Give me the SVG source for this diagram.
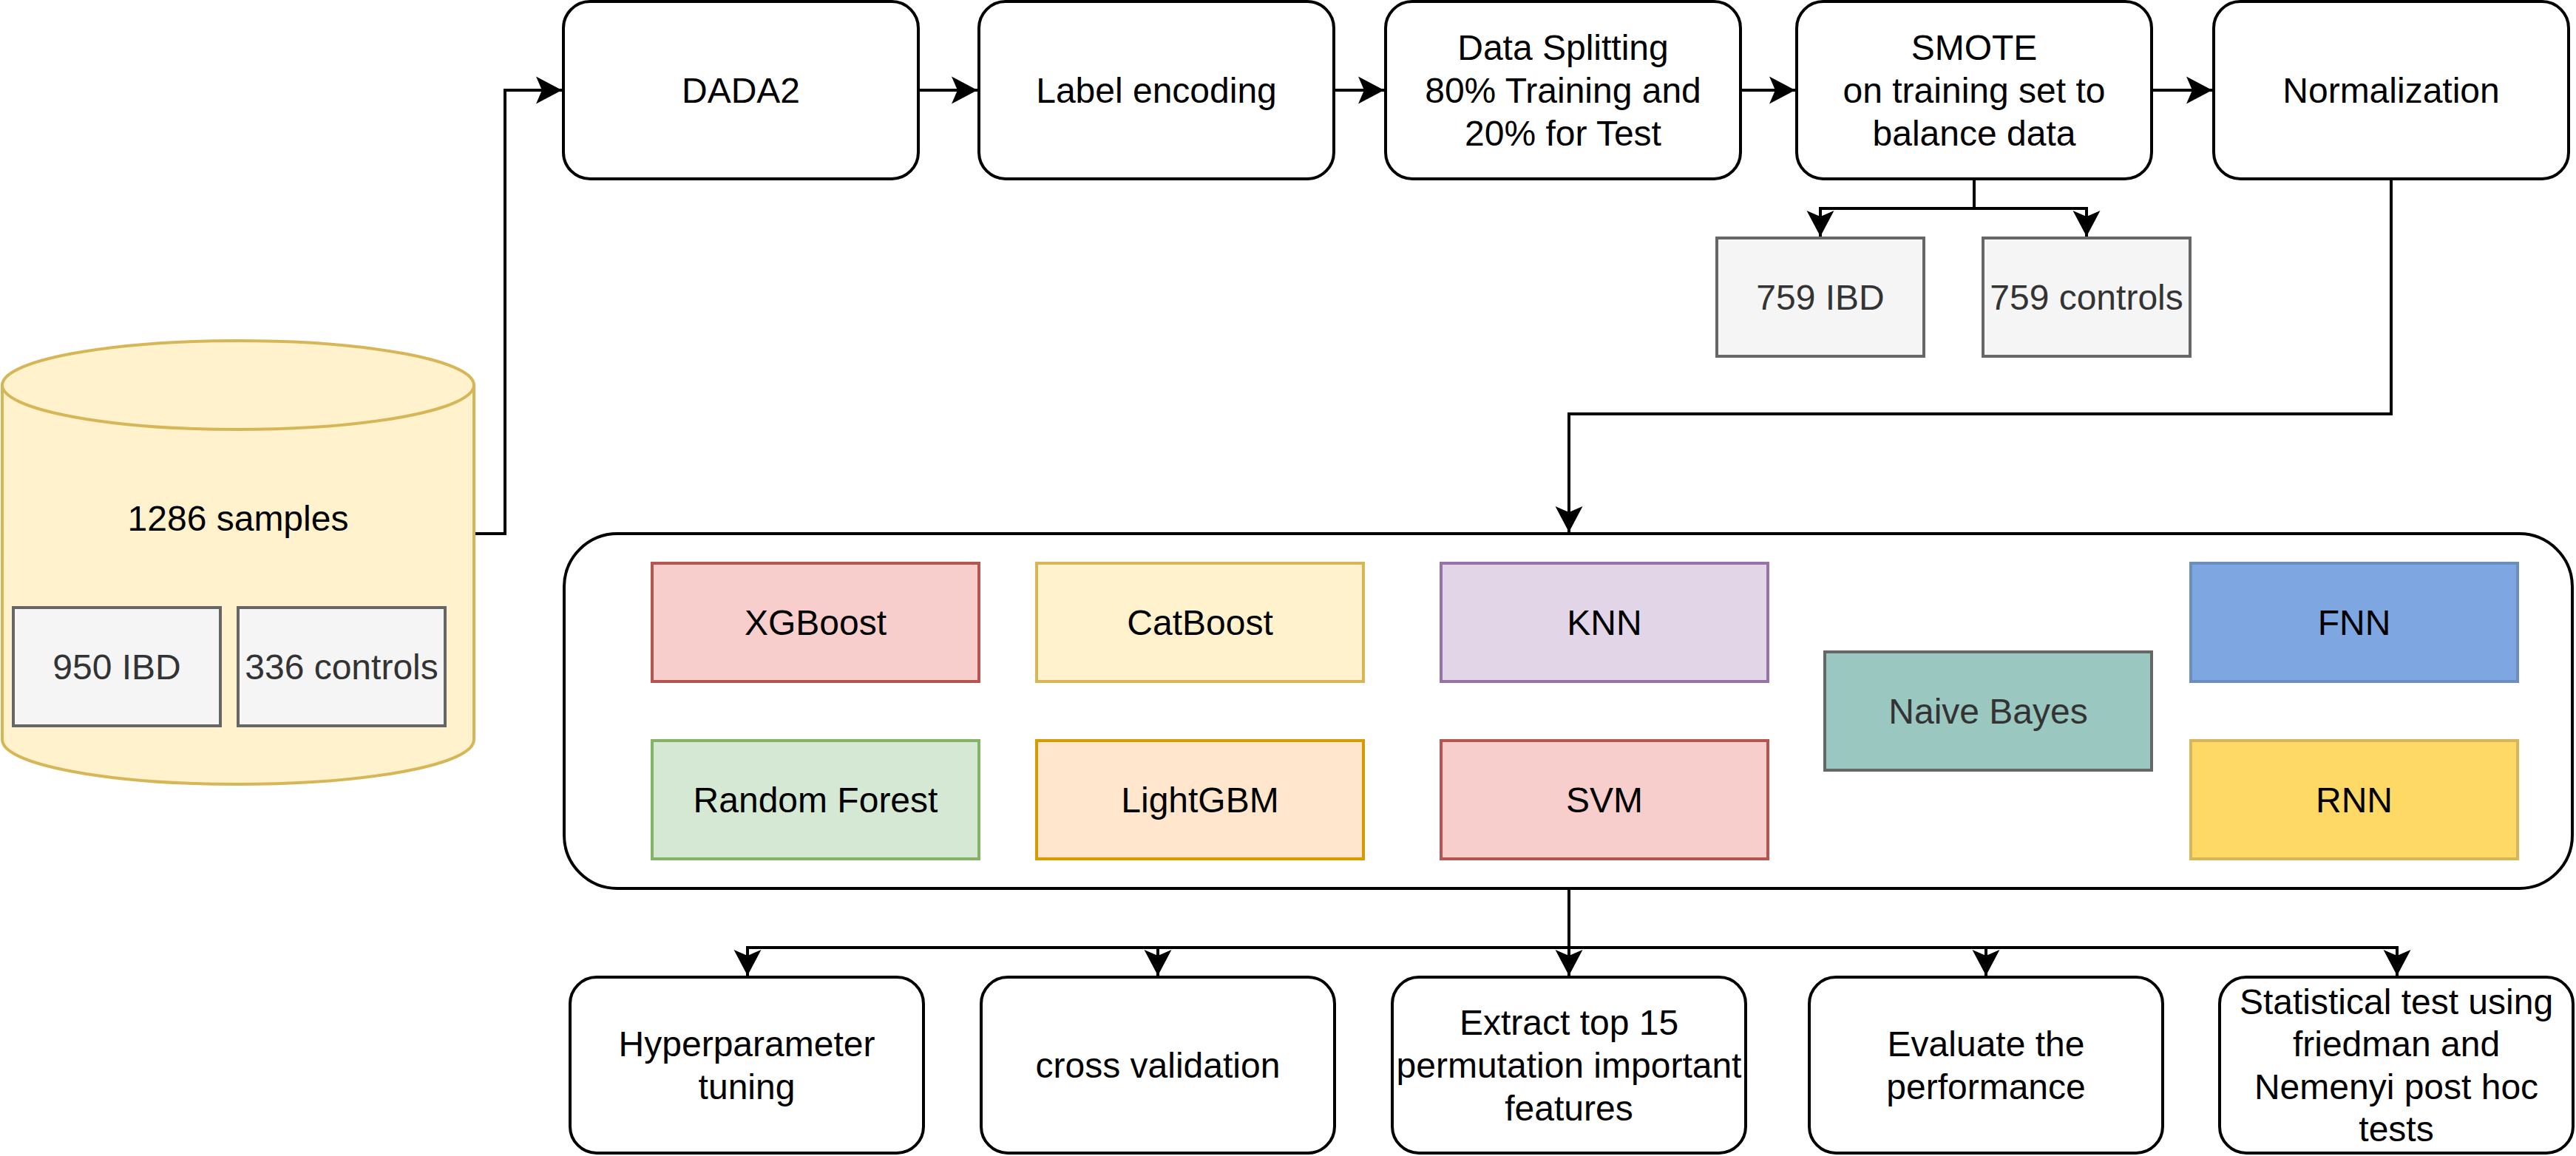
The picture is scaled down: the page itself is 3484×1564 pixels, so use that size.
<svg xmlns="http://www.w3.org/2000/svg" width="3484" height="1564" viewBox="0 0 3484 1564">
<style>
text{font-family:"Liberation Sans",Arial,Helvetica,sans-serif;font-size:48px;text-anchor:middle;fill:#000}
.g text,text.g{fill:#333333}
.box{fill:#fff;stroke:#000;stroke-width:4}
.grey{fill:#f5f5f5;stroke:#666666;stroke-width:4}
.m{stroke-width:4}
.conn{fill:none;stroke:#000;stroke-width:4}
</style>
<defs>
<marker id="arr" markerUnits="userSpaceOnUse" markerWidth="40" markerHeight="40" viewBox="-36 -20 40 40" refX="0" refY="0" orient="auto" overflow="visible">
<path d="M0,0 L-35,-18.5 L-27,0 L-35,18.5 Z" fill="#000" stroke="none"/>
</marker>
</defs>
<g id="connectors">
<path class="conn" d="M641,722 H683 V122 H760" marker-end="url(#arr)"/>
<path class="conn" d="M1242,122 H1322" marker-end="url(#arr)"/>
<path class="conn" d="M1804,122 H1872" marker-end="url(#arr)"/>
<path class="conn" d="M2354,122 H2428" marker-end="url(#arr)"/>
<path class="conn" d="M2910,122 H2992" marker-end="url(#arr)"/>
<path class="conn" d="M2670,242 V282 H2462 V320" marker-end="url(#arr)"/>
<path class="conn" d="M2670,282 H2822 V320" marker-end="url(#arr)"/>
<path class="conn" d="M3234,242 V560 H2122 V720" marker-end="url(#arr)"/>
<path class="conn" d="M2122,1202 V1282 H1011 V1320" marker-end="url(#arr)"/>
<path class="conn" d="M2122,1282 H1566 V1320" marker-end="url(#arr)"/>
<path class="conn" d="M2122,1282 V1320" marker-end="url(#arr)"/>
<path class="conn" d="M2122,1282 H2686 V1320" marker-end="url(#arr)"/>
<path class="conn" d="M2122,1282 H3242 V1320" marker-end="url(#arr)"/>
</g>
<g id="samples">
<path d="M3,521 A319,60 0 0 1 641,521 L641,1001 A319,60 0 0 1 3,1001 Z" fill="#fff2cc" stroke="#d6b656" stroke-width="4"/>
<path d="M3,521 A319,60 0 0 0 641,521" fill="none" stroke="#d6b656" stroke-width="4"/>
<text x="322" y="718">1286 samples</text>
</g>
<g id="ibd950" class="g"><rect class="grey" x="18" y="822" width="280" height="160"/><text x="158" y="919">950 IBD</text></g>
<g id="controls336" class="g"><rect class="grey" x="322" y="822" width="280" height="160"/><text x="462" y="919">336 controls</text></g>
<g id="dada2"><rect class="box" x="762" y="2" width="480" height="240" rx="36"/><text x="1002" y="139">DADA2</text></g>
<g id="labelenc"><rect class="box" x="1324" y="2" width="480" height="240" rx="36"/><text x="1564" y="139">Label encoding</text></g>
<g id="split"><rect class="box" x="1874" y="2" width="480" height="240" rx="36"/><text x="2114" y="81">Data Splitting</text><text x="2114" y="139">80% Training and</text><text x="2114" y="197">20% for Test</text></g>
<g id="smote"><rect class="box" x="2430" y="2" width="480" height="240" rx="36"/><text x="2670" y="81">SMOTE</text><text x="2670" y="139">on training set to</text><text x="2670" y="197">balance data</text></g>
<g id="norm"><rect class="box" x="2994" y="2" width="480" height="240" rx="36"/><text x="3234" y="139">Normalization</text></g>
<g id="ibd759" class="g"><rect class="grey" x="2322" y="322" width="280" height="160"/><text x="2462" y="419">759 IBD</text></g>
<g id="controls759" class="g"><rect class="grey" x="2682" y="322" width="280" height="160"/><text x="2822" y="419">759 controls</text></g>
<g id="models"><rect class="box" x="763" y="722" width="2716" height="480" rx="72"/></g>
<g id="xgboost"><rect class="m" x="882" y="762" width="442" height="160" fill="#f8cecc" stroke="#b85450"/><text x="1103" y="859">XGBoost</text></g>
<g id="catboost"><rect class="m" x="1402" y="762" width="442" height="160" fill="#fff2cc" stroke="#d6b656"/><text x="1623" y="859">CatBoost</text></g>
<g id="knn"><rect class="m" x="1949" y="762" width="442" height="160" fill="#e1d5e7" stroke="#9673a6"/><text x="2170" y="859">KNN</text></g>
<g id="naivebayes" class="g"><rect class="m" x="2468" y="882" width="442" height="160" fill="#9AC7BF" stroke="#666666"/><text x="2689" y="979">Naive Bayes</text></g>
<g id="fnn"><rect class="m" x="2963" y="762" width="442" height="160" fill="#7EA6E0" stroke="#6c8ebf"/><text x="3184" y="859">FNN</text></g>
<g id="randomforest"><rect class="m" x="882" y="1002" width="442" height="160" fill="#d5e8d4" stroke="#82b366"/><text x="1103" y="1099">Random Forest</text></g>
<g id="lightgbm"><rect class="m" x="1402" y="1002" width="442" height="160" fill="#ffe6cc" stroke="#d79b00"/><text x="1623" y="1099">LightGBM</text></g>
<g id="svm"><rect class="m" x="1949" y="1002" width="442" height="160" fill="#f8cecc" stroke="#b85450"/><text x="2170" y="1099">SVM</text></g>
<g id="rnn"><rect class="m" x="2963" y="1002" width="442" height="160" fill="#FFD966" stroke="#d6b656"/><text x="3184" y="1099">RNN</text></g>
<g id="hyper"><rect class="box" x="771" y="1322" width="478" height="238" rx="36"/><text x="1010" y="1429">Hyperparameter</text><text x="1010" y="1487">tuning</text></g>
<g id="cv"><rect class="box" x="1327" y="1322" width="478" height="238" rx="36"/><text x="1566" y="1458">cross validation</text></g>
<g id="extract"><rect class="box" x="1883" y="1322" width="478" height="238" rx="36"/><text x="2122" y="1400">Extract top 15</text><text x="2122" y="1458">permutation important</text><text x="2122" y="1516">features</text></g>
<g id="evaluate"><rect class="box" x="2447" y="1322" width="478" height="238" rx="36"/><text x="2686" y="1429">Evaluate the</text><text x="2686" y="1487">performance</text></g>
<g id="stattest"><rect class="box" x="3002" y="1322" width="478" height="238" rx="36"/><text x="3241" y="1372">Statistical test using</text><text x="3241" y="1429">friedman and</text><text x="3241" y="1487">Nemenyi post hoc</text><text x="3241" y="1544">tests</text></g>
</svg>
